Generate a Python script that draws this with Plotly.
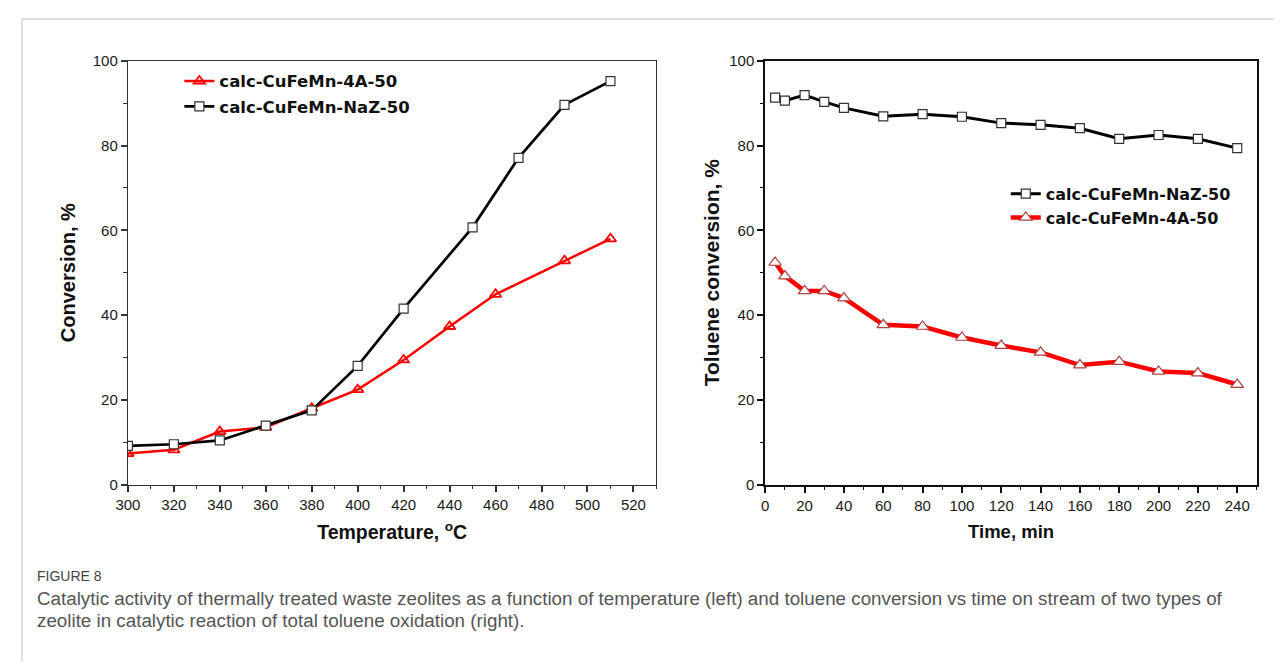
import plotly.graph_objects as go

# ---------------- data ----------------
temp_4a = [300, 320, 340, 360, 380, 400, 420, 440, 460, 490, 510]
conv_4a = [7.3, 8.2, 12.5, 13.5, 18.0, 22.4, 29.4, 37.3, 44.9, 52.8, 58.0]
temp_naz = [300, 320, 340, 360, 380, 400, 420, 450, 470, 490, 510]
conv_naz = [9.1, 9.5, 10.4, 13.9, 17.5, 28.0, 41.5, 60.7, 77.1, 89.6, 95.2]

time_min = [5, 10, 20, 30, 40, 60, 80, 100, 120, 140, 160, 180, 200, 220, 240]
tol_naz = [91.3, 90.6, 91.9, 90.3, 88.9, 86.9, 87.4, 86.8, 85.3, 84.9, 84.1, 81.6, 82.5, 81.6, 79.4]
tol_4a = [52.4, 49.2, 45.7, 45.7, 44.0, 37.7, 37.3, 34.7, 32.8, 31.2, 28.2, 29.0, 26.7, 26.3, 23.6]

name_4a = "calc-CuFeMn-4A-50"
name_naz = "calc-CuFeMn-NaZ-50"

caption_head = "FIGURE 8"
caption_l1 = ("Catalytic activity of thermally treated waste zeolites as a function of temperature (left) "
              "and toluene conversion vs time on stream of two types of")
caption_l2 = "zeolite in catalytic reaction of total toluene oxidation (right)."

# page is 1282x670 with the default 8px body margin -> figure is 1266x654 at (8,8)
W, H = 1266, 654
OX, OY = 8, 8


def X(px):
    return (px - OX) / W


def Y(py):
    return 1 - (py - OY) / H


FONT = "Arial, Liberation Sans, sans-serif"
LFONT = "DejaVu Sans, Arial, sans-serif"

fig = go.Figure()

# left panel
fig.add_trace(go.Scatter(x=temp_4a, y=conv_4a, name=name_4a, mode="lines+markers",
                         legendgroup="a", legend="legend",
                         line=dict(color="#ff0000", width=2.5),
                         marker=dict(symbol="triangle-up-open", size=10, color="#ff0000",
                                     line=dict(width=1.8, color="#ff0000")),
                         xaxis="x", yaxis="y"))
fig.add_trace(go.Scatter(x=temp_naz, y=conv_naz, name=name_naz, mode="lines+markers",
                         legendgroup="b", legend="legend",
                         line=dict(color="#000000", width=2.7),
                         marker=dict(symbol="square", size=9, color="white",
                                     line=dict(width=1.2, color="#333333")),
                         xaxis="x", yaxis="y"))

# right panel
fig.add_trace(go.Scatter(x=time_min, y=tol_naz, name=name_naz, mode="lines+markers",
                         legendgroup="c", legend="legend2",
                         line=dict(color="#000000", width=3),
                         marker=dict(symbol="square", size=9, color="white",
                                     line=dict(width=1.2, color="#333333")),
                         xaxis="x2", yaxis="y2"))
fig.add_trace(go.Scatter(x=time_min, y=tol_4a, name=name_4a, mode="lines+markers",
                         legendgroup="d", legend="legend2",
                         line=dict(color="#ff0000", width=4.5),
                         marker=dict(symbol="triangle-up", size=11, color="white",
                                     line=dict(width=1.2, color="#b04040")),
                         xaxis="x2", yaxis="y2"))


def axis_style(lc, lw):
    return dict(showline=True, linecolor=lc, linewidth=lw, mirror=True,
                ticks="outside", ticklen=6, tickwidth=1.5, tickcolor=lc,
                showgrid=False, zeroline=False,
                tickfont=dict(family=FONT, size=15, color="#1a1a1a"))


def minor(lc, t0):
    return dict(ticks="outside", ticklen=3.5, tickwidth=1.2, tickcolor=lc, dtick=10, tick0=t0)


yd = [Y(488), Y(53)]
LC1, LC2 = "#333333", "#111111"

fig.update_layout(
    width=W, height=H,
    margin=dict(l=0, r=0, t=0, b=0),
    paper_bgcolor="white", plot_bgcolor="white",
    xaxis=dict(domain=[X(116), X(650)], range=[300, 530], tickmode="array",
               tickvals=list(range(300, 521, 20)), minor=minor(LC1, 300),
               title=dict(text="Temperature, <sup>o</sup>C", standoff=13,
                          font=dict(family=FONT, size=19.5, color="#111111", weight="bold")),
               anchor="y", **axis_style(LC1, 1.3)),
    yaxis=dict(domain=yd, range=[0, 100], tickmode="array", tickvals=[0, 20, 40, 60, 80, 100],
               minor=minor(LC1, 0),
               title=dict(text="Conversion, %", standoff=11,
                          font=dict(family=FONT, size=20, color="#111111", weight="bold")),
               anchor="x", **axis_style(LC1, 1.3)),
    xaxis2=dict(domain=[X(760), X(1256.7)], range=[0, 250], tickmode="array",
                tickvals=list(range(0, 241, 20)), minor=minor(LC2, 0),
                title=dict(text="Time, min", standoff=13,
                           font=dict(family=FONT, size=18.5, color="#111111", weight="bold")),
                anchor="y2", **axis_style(LC2, 2)),
    yaxis2=dict(domain=yd, range=[0, 100], tickmode="array", tickvals=[0, 20, 40, 60, 80, 100],
                minor=minor(LC2, 0),
                title=dict(text="Toluene conversion, %", standoff=4,
                           font=dict(family=FONT, size=21, color="#111111", weight="bold")),
                anchor="x2", **axis_style(LC2, 2)),
    legend=dict(x=X(168), y=Y(56), xanchor="left", yanchor="top",
                bgcolor="rgba(0,0,0,0)", tracegroupgap=1, itemwidth=30,
                font=dict(family=LFONT, size=16.5, color="#111111", weight="bold")),
    legend2=dict(x=X(1003), y=Y(172), xanchor="left", yanchor="top",
                 bgcolor="rgba(0,0,0,0)", tracegroupgap=0, itemwidth=30,
                 font=dict(family=LFONT, size=16, color="#111111", weight="bold")),
    shapes=[
        dict(type="line", xref="paper", yref="paper", x0=X(9), x1=X(1290), y0=Y(10), y1=Y(10),
             line=dict(color="#d4d4d4", width=1.5)),
        dict(type="line", xref="paper", yref="paper", x0=X(9), x1=X(9), y0=Y(680), y1=Y(10),
             line=dict(color="#d4d4d4", width=1.5)),
    ],
    annotations=[
        dict(text=caption_head, xref="paper", yref="paper", x=X(22), y=Y(582),
             xanchor="left", yanchor="middle", showarrow=False,
             font=dict(family=FONT, size=14, color="#444444")),
        dict(text=caption_l1, xref="paper", yref="paper", x=X(22), y=Y(605),
             xanchor="left", yanchor="middle", showarrow=False,
             font=dict(family=FONT, size=18.8, color="#555555")),
        dict(text=caption_l2, xref="paper", yref="paper", x=X(22), y=Y(628),
             xanchor="left", yanchor="middle", showarrow=False,
             font=dict(family=FONT, size=18.8, color="#555555")),
    ],
)

fig.write_html("out.html")
